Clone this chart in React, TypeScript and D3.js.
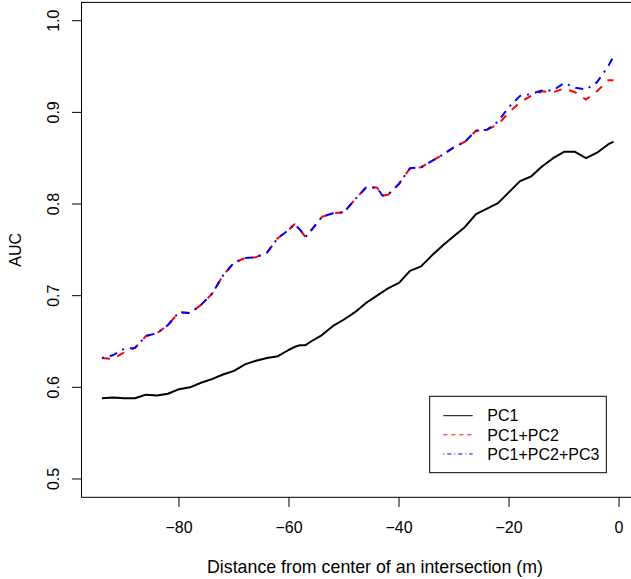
import React from "react";
import * as d3 from "d3";

const distance = [-94,-92,-90,-88,-86,-84,-82,-80,-78,-76,-74,-72,-70,-68,-66,-64,-62,-60,-59,-58,-57,-56,-54,-52,-50,-48,-46,-44,-43,-42,-40,-38,-36,-34,-32,-30,-28,-26,-24,-22,-20,-18,-16,-14,-12,-10,-8,-6,-4,-2,-1];

const pc1 = [0.588,0.589,0.588,0.588,0.592,0.591,0.593,0.598,0.600,0.605,0.609,0.614,0.618,0.625,0.629,0.632,0.634,0.641,0.644,0.646,0.646,0.650,0.657,0.667,0.674,0.682,0.692,0.700,0.704,0.708,0.714,0.727,0.732,0.744,0.755,0.765,0.775,0.789,0.795,0.801,0.813,0.825,0.830,0.841,0.850,0.857,0.857,0.850,0.856,0.865,0.868];

const pc12 = [0.632,0.631,0.638,0.643,0.656,0.659,0.668,0.682,0.681,0.690,0.702,0.722,0.736,0.741,0.742,0.747,0.763,0.772,0.778,0.772,0.764,0.771,0.786,0.790,0.791,0.805,0.818,0.818,0.809,0.810,0.822,0.839,0.840,0.847,0.854,0.862,0.868,0.880,0.881,0.887,0.900,0.911,0.918,0.923,0.922,0.926,0.922,0.914,0.923,0.935,0.935];

const pc123 = [0.632,0.635,0.642,0.643,0.656,0.659,0.668,0.682,0.681,0.690,0.702,0.722,0.736,0.741,0.742,0.747,0.763,0.772,0.778,0.772,0.764,0.771,0.786,0.790,0.791,0.805,0.818,0.818,0.809,0.810,0.822,0.839,0.840,0.847,0.854,0.862,0.868,0.880,0.881,0.890,0.906,0.918,0.920,0.924,0.924,0.932,0.927,0.925,0.933,0.950,0.961];

const xTicks = [-80, -60, -40, -20, 0];
const yTicks = [0.5, 0.6, 0.7, 0.8, 0.9, 1.0];
const legendLabels = ["PC1", "PC1+PC2", "PC1+PC2+PC3"];

const W = 631;
const H = 579;
const FONT = "'Liberation Sans', Arial, Helvetica, sans-serif";

export default function App() {
  const x = d3.scaleLinear().domain([-97.72, 2.72]).range([81.5, 634]);
  const y = d3.scaleLinear().domain([0.48, 1.02]).range([497.3, 2.4]);

  const mk = (vals: number[]) =>
    d3
      .line<number>()
      .x((_, i) => x(distance[i]))
      .y((d) => y(d))(vals) || "";

  const series = [
    { vals: pc1, color: "#000000", dash: "none", legDash: "none" },
    { vals: pc12, color: "#FF0000", dash: "8,8", legDash: "4,4" },
    { vals: pc123, color: "#0000FF", dash: "2,6,8,6", legDash: "1,3,4,3" },
  ];

  const left = x.range()[0];
  const bottom = y.range()[0];
  const top = y.range()[1];
  const right = x.range()[1];

  const legX = 429.7, legY = 396.3, legW = 176.6, legH = 76.4;
  const rowY = [415.7, 434.8, 454];

  return (
    <svg
      width={W}
      height={H}
      style={{ position: "absolute", left: 0, top: 0, background: "#fff" }}
      fontFamily={FONT}
    >
      <rect x={0} y={0} width={W} height={H} fill="#fff" />
      {series.map((s, i) => (
        <path
          key={i}
          d={mk(s.vals)}
          fill="none"
          stroke={s.color}
          strokeWidth={2}
          strokeDasharray={s.dash}
          strokeLinejoin="round"
        />
      ))}
      <rect
        x={left}
        y={top}
        width={right - left}
        height={bottom - top}
        fill="none"
        stroke="#000"
        strokeWidth={1}
      />
      {xTicks.map((t) => (
        <g key={t}>
          <line x1={x(t)} x2={x(t)} y1={bottom} y2={bottom + 9.6} stroke="#000" />
          <text x={x(t)} y={532.5} textAnchor="middle" fontSize={16}>
            {t < 0 ? "\u2212" + Math.abs(t) : String(t)}
          </text>
        </g>
      ))}
      {yTicks.map((t) => (
        <g key={t}>
          <line x1={left} x2={left - 9.6} y1={y(t)} y2={y(t)} stroke="#000" />
          <text
            transform={`translate(59,${y(t)}) rotate(-90)`}
            textAnchor="middle"
            fontSize={16}
          >
            {t.toFixed(1)}
          </text>
        </g>
      ))}
      <text x={375} y={573} textAnchor="middle" fontSize={17.8}>
        Distance from center of an intersection (m)
      </text>
      <text
        transform={`translate(20.5,${(top + bottom) / 2}) rotate(-90)`}
        textAnchor="middle"
        fontSize={16}
      >
        AUC
      </text>
      <rect x={legX} y={legY} width={legW} height={legH} fill="#fff" stroke="#000" />
      {series.map((s, i) => (
        <g key={i}>
          <line
            x1={443.3}
            x2={472.7}
            y1={rowY[i]}
            y2={rowY[i]}
            stroke={s.color}
            strokeWidth={1}
            strokeDasharray={s.legDash}
          />
          <text x={487.3} y={rowY[i]} dy="0.36em" fontSize={16}>
            {legendLabels[i]}
          </text>
        </g>
      ))}
    </svg>
  );
}
